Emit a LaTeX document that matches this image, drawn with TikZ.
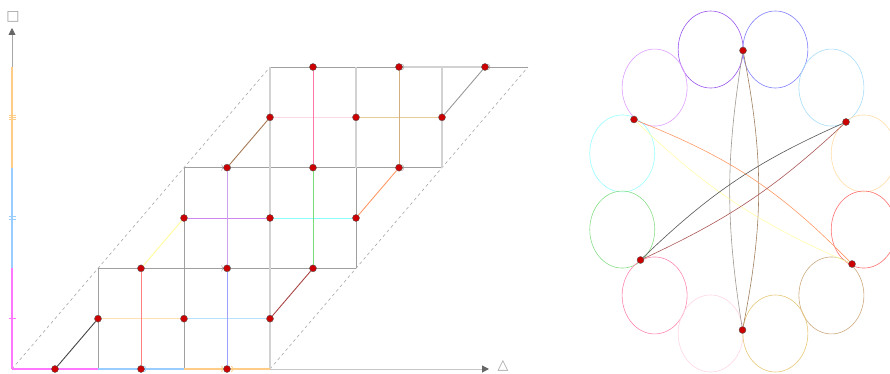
\documentclass[tikz,border=0pt]{standalone}
\usepackage{fontspec}
\newfontfamily\symfont{DejaVu Sans}
\usetikzlibrary{arrows.meta,shapes.geometric}
% left diagram colours
\definecolor{axmag}{HTML}{FF77FF}
\definecolor{axblue}{HTML}{99CCFF}
\definecolor{axorange}{HTML}{FFCC88}
\definecolor{segbeige}{HTML}{FFE0B0}
\definecolor{seglblue}{HTML}{B8E0FF}
\definecolor{segviolet}{HTML}{CC88EE}
\definecolor{segcyan}{HTML}{88FFFF}
\definecolor{seglpink}{HTML}{FFD8E6}
\definecolor{segtan}{HTML}{E8CC98}
\definecolor{vred}{HTML}{FF8080}
\definecolor{vblue}{HTML}{A0A0FF}
\definecolor{vviolet}{HTML}{CCA0EE}
\definecolor{vgreen}{HTML}{77DD77}
\definecolor{vpink}{HTML}{FF77AA}
\definecolor{vtan}{HTML}{D4B080}
\definecolor{dblack}{HTML}{444444}
\definecolor{dyellow}{HTML}{FFFF99}
\definecolor{dbrown}{HTML}{A57A55}
\definecolor{dgray}{HTML}{999999}
\definecolor{dsalmon}{HTML}{FF9966}
\definecolor{dred}{HTML}{AA4444}
\definecolor{dotred}{HTML}{CC0000}
% right diagram colours
\definecolor{epurple}{HTML}{9955EE}
\definecolor{eblue}{HTML}{8080FF}
\definecolor{elilac}{HTML}{DDA0FF}
\definecolor{elblue}{HTML}{AADDF8}
\definecolor{ecyan}{HTML}{99FFFF}
\definecolor{epeach}{HTML}{FFDDA8}
\definecolor{egreen}{HTML}{88DD88}
\definecolor{ered}{HTML}{FF7070}
\definecolor{ehpink}{HTML}{FF88B0}
\definecolor{etan}{HTML}{CCAA80}
\definecolor{elpink}{HTML}{FFD6E4}
\definecolor{egold}{HTML}{E6C878}
\definecolor{cgray}{HTML}{A09890}
\definecolor{cbrown}{HTML}{A08060}
\definecolor{corange}{HTML}{FF9966}
\definecolor{cyellow}{HTML}{FFFFAA}
\definecolor{cblack}{HTML}{555555}
\definecolor{cdred}{HTML}{AA5555}
\begin{document}
\begin{tikzpicture}[x=1pt,y=-1pt,
  gridd/.style={draw=gray!75, line width=0.6pt},
  gridl/.style={draw=gray!35, line width=1.1pt},
  dashl/.style={draw=gray!70, dash pattern=on 3pt off 3pt, line width=0.6pt},
  reddot/.style={circle, inner sep=0pt, minimum size=7pt, fill=dotred, draw=black!65, line width=0.4pt},
  seg/.style={line width=0.9pt},
  axseg/.style={line width=1.1pt},
  oval/.style={ellipse, draw, minimum width=65pt, minimum height=77pt, inner sep=0pt, line width=0.6pt},
  chev/.style={draw=gray!70, line width=0.5pt},
  curve/.style={line width=0.6pt},
  symlabel/.style={text=gray!75, inner sep=0pt, font=\symfont\fontsize{14}{14}\selectfont}
]
\useasboundingbox (0,0) rectangle (890,374);
% lattice coordinates
\foreach \p in {0,...,12}{\foreach \k in {0,...,6}{
  \coordinate (g\p-\k) at ({12+43*\p},{369-50.333*\k});}}
\coordinate (ytip) at (12,28);
\coordinate (xtip) at (489,369);
% dashed parallelogram sides
\draw[dashl] (g0-0) -- (g6-6);
\draw[dashl] (g6-0) -- (g12-6);
% gray grid
\draw[gridd] (g2-2) -- (g8-2);
\draw[gridd] (g4-4) -- (g10-4);
\draw[gridd] (g6-6) -- (g9-6);
\draw[gridd] (g11-6) -- (g12-6);
\draw[gridd] (g2-0) -- (g2-2);
\draw[gridd] (g4-0) -- (g4-4);
\draw[gridd] (g8-2) -- (g8-4);
\draw[gridl] (g9-6) -- (g11-6);
\draw[gridl] (g6-0) -- (g6-6);
\draw[gridl] (g8-4) -- (g8-6);
\draw[gridl] (g10-4) -- (g10-6);
% axes
\draw[axseg, axmag] (g0-0) -- (g0-2);
\draw[axseg, axblue] (g0-2) -- (g0-4);
\draw[axseg, axorange] (g0-4) -- (g0-6);
\draw[gray!70, line width=0.8pt, -{Triangle[length=7pt,width=7pt,color=black!60]}] (g0-6) -- (ytip);
\draw[axseg, axmag] (g0-0) -- (g2-0);
\draw[axseg, axblue] (g2-0) -- (g4-0);
\draw[axseg, axorange] (g4-0) -- (g6-0);
\draw[gray!45, line width=1pt, -{Triangle[length=7pt,width=7pt,color=black!60]}] (g6-0) -- (xtip);
% ticks on vertical axis
\draw[axmag, line width=0.7pt] ([xshift=-3.5pt]g0-1) -- ([xshift=3.5pt]g0-1);
\draw[axblue, line width=0.7pt] ([xshift=-3.5pt,yshift=1.2pt]g0-3) -- ([xshift=3.5pt,yshift=1.2pt]g0-3);
\draw[axblue, line width=0.7pt] ([xshift=-3.5pt,yshift=-1.2pt]g0-3) -- ([xshift=3.5pt,yshift=-1.2pt]g0-3);
\foreach \s in {-2,0,2}{
  \draw[axorange, line width=0.6pt] ([xshift=-3.5pt,yshift=\s pt]g0-5) -- ([xshift=3.5pt,yshift=\s pt]g0-5);}
% axis labels
\node[symlabel] (ylab) at (13,17) {□};
\node[symlabel] (xlab) at (503,366) {△};
% chevron marks
\foreach \c/\d in {g5-2/4, g5-2/-4, g5-4/4, g5-4/-4, g9-4/5, g9-6/5, g11-6/5}{
  \draw[chev, shift={(\c)}] (\d-1.5,-3) .. controls (\d+0.5,-1) and (\d+0.5,1) .. (\d-1.5,3);}
\draw[axblue, line width=0.7pt, shift={(g3-0)}] (3.5,-3) .. controls (5.5,-1) and (5.5,1) .. (3.5,3);
\foreach \d in {-4,6}{
  \draw[axorange, line width=0.7pt, shift={(g5-0)}] (\d-1.5,-3) .. controls (\d+0.5,-1) and (\d+0.5,1) .. (\d-1.5,3);}
% dots
\foreach \p/\k in {1/0,2/1,3/2,4/3,5/4,6/5,7/6,
                   3/0,4/1,5/2,6/3,7/4,8/5,9/6,
                   5/0,6/1,7/2,8/3,9/4,10/5,11/6}{
  \node[reddot] (d\p-\k) at (g\p-\k) {};}
% diagonal coloured connectors
\draw[seg, dblack] (d1-0) -- (d2-1);
\draw[seg, dyellow] (d3-2) -- (d4-3);
\draw[seg, dbrown] (d5-4) -- (d6-5);
\draw[seg, dgray] (d10-5) -- (d11-6);
\draw[seg, dsalmon] (d8-3) -- (d9-4);
\draw[seg, dred] (d6-1) -- (d7-2);
% horizontal coloured connectors
\draw[seg, segbeige] (d2-1) -- (d4-1);
\draw[seg, seglblue] (d4-1) -- (d6-1);
\draw[seg, segviolet] (d4-3) -- (d6-3);
\draw[seg, segcyan] (d6-3) -- (d8-3);
\draw[seg, seglpink] (d6-5) -- (d8-5);
\draw[seg, segtan] (d8-5) -- (d10-5);
% vertical coloured connectors
\draw[seg, vred] (d3-0) -- (d3-2);
\draw[seg, vblue] (d5-0) -- (d5-2);
\draw[seg, vviolet] (d5-2) -- (d5-4);
\draw[seg, vgreen] (d7-2) -- (d7-4);
\draw[seg, vpink] (d7-4) -- (d7-6);
\draw[seg, vtan] (d9-4) -- (d9-6);
% right diagram: ring of ovals
\foreach \n/\a/\c in {1/105/epurple, 2/75/eblue, 3/135/elilac, 4/45/elblue,
                      5/165/ecyan, 6/15/epeach, 7/195/egreen, 8/345/ered,
                      9/225/ehpink, 10/315/etan, 11/255/elpink, 12/285/egold}{
  \node[oval, draw=\c] (e\n) at ({743+125*cos(\a)},{191.5-147*sin(\a)}) {};}
% right diagram points
\node[reddot] (r1) at (743,50.5) {};
\node[reddot] (r2) at (634,119.5) {};
\node[reddot] (r3) at (846,122) {};
\node[reddot] (r4) at (640.5,260) {};
\node[reddot] (r5) at (852,264) {};
\node[reddot] (r6) at (742.5,330) {};
% right diagram curves
\draw[curve, cgray] (r1) to[bend right=9] (r6);
\draw[curve, cbrown] (r1) to[bend left=11] (r6);
\draw[curve, corange] (r2) to[bend left=12] (r5);
\draw[curve, cyellow] (r2) to[bend right=10] (r5);
\draw[curve, cblack] (r3) to[bend right=10] (r4);
\draw[curve, cdred] (r3) to[bend left=9] (r4);
\end{tikzpicture}
\end{document}
